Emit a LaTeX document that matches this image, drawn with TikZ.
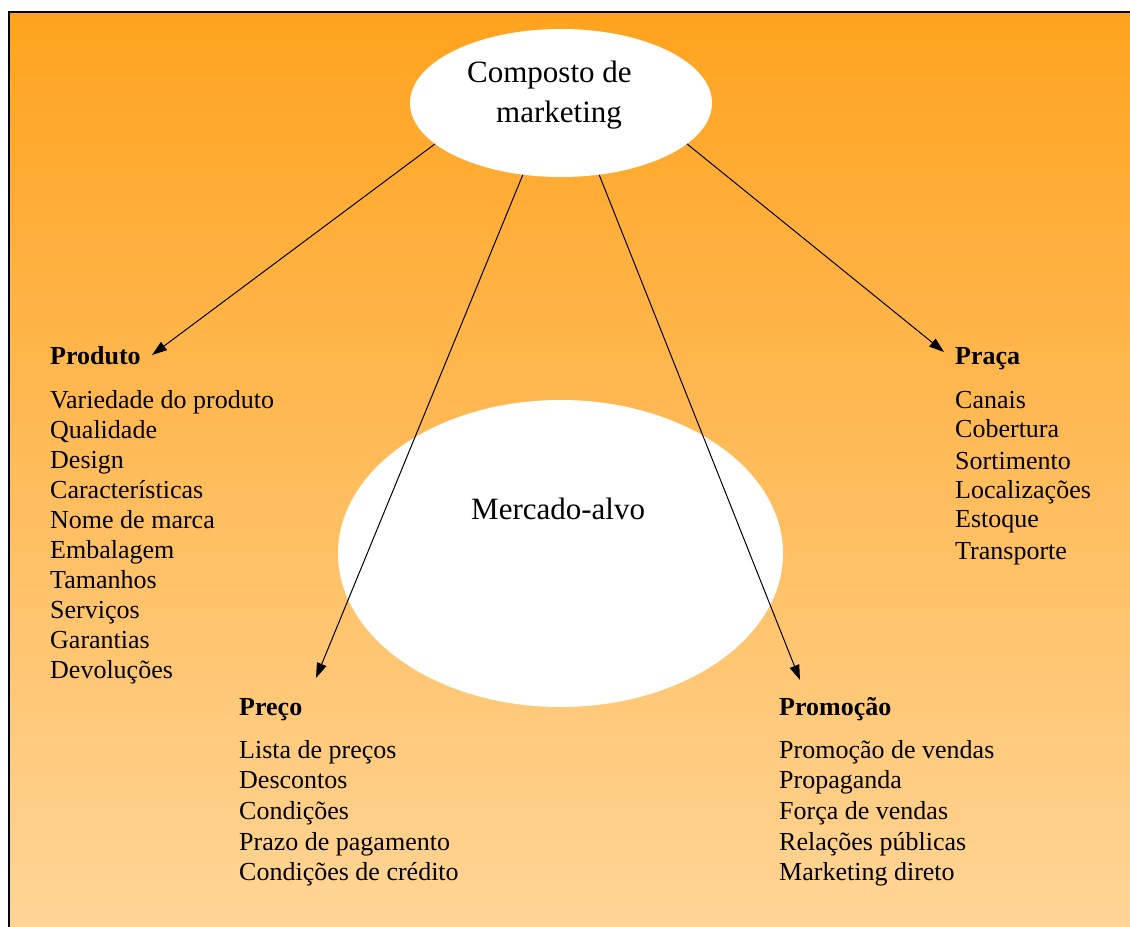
\documentclass[tikz,border=0pt]{standalone}
\usepackage{fontspec}
\setmainfont{Liberation Serif}
\usetikzlibrary{shapes.geometric,arrows.meta}
\definecolor{topor}{RGB}{255,163,30}
\definecolor{botor}{RGB}{255,213,150}
\begin{document}
\begin{tikzpicture}[x=1bp,y=-1bp,
  bubble/.style={ellipse,fill=white,draw=none,inner sep=0},
  title/.style={font=\fontsize{31bp}{36bp}\selectfont,inner sep=0,anchor=base west},
  head/.style={font=\fontsize{26bp}{30bp}\selectfont\bfseries,inner sep=0,anchor=base west},
  item/.style={font=\fontsize{26bp}{30bp}\selectfont,inner sep=0,anchor=base west},
  arr/.style={-{Triangle[length=15bp,width=10bp]},line width=1bp,black}]
\useasboundingbox (0,0) rectangle (1130,927);
\fill[white] (0,0) rectangle (1130,927);
% background panel with orange gradient and frame
\shade[top color=topor,bottom color=botor] (9,12) rectangle (1130,927);
\draw[line width=2.5bp] (9,927) -- (9,12) -- (1130,12);

% the two bubbles
\node[bubble,minimum width=302bp,minimum height=148bp] (mix) at (561,103) {};
\node[title] (mixA) at (467,82) {Composto de};
\node[title] (mixB) at (496,122) {marketing};
\node[bubble,minimum width=445bp,minimum height=307bp] (alvo) at (560.5,553.5) {};
\node[title] (alvoT) at (471,519) {Mercado-alvo};

% Produto
\node[head] (prod) at (50,364) {Produto};
\foreach \t [count=\i] in {Variedade do produto,Qualidade,Design,Características,Nome de marca,Embalagem,Tamanhos,Serviços,Garantias,Devoluções}
  \node[item] (prod\i) at (50,{408+30.1*(\i-1)}) {\t};

% Praça
\node[head] (praca) at (955,364) {Praça};
\foreach \t/\yy [count=\i] in {Canais/408,Cobertura/437,Sortimento/469,Localizações/498,Estoque/527,Transporte/559}
  \node[item] (praca\i) at (955,\yy) {\t};

% Preço
\node[head] (preco) at (239,715) {Preço};
\foreach \t/\yy [count=\i] in {Lista de preços/758,Descontos/788,Condições/819,Prazo de pagamento/850,Condições de crédito/880}
  \node[item] (preco\i) at (239,\yy) {\t};

% Promoção
\node[head] (promo) at (779,715) {Promoção};
\foreach \t/\yy [count=\i] in {Promoção de vendas/758,Propaganda/788,Força de vendas/819,Relações públicas/850,Marketing direto/880}
  \node[item] (promo\i) at (779,\yy) {\t};

% arrow tips beside the headings
\coordinate (tipProd) at (152,355);
\coordinate (tipPreco) at (316,678);
\coordinate (tipPromo) at (800,680);
\coordinate (tipPraca) at (944,352);

\draw[arr] (mix.198) -- (tipProd);
\draw[arr] (mix.242) -- (tipPreco);
\draw[arr] (mix.-62) -- (tipPromo);
\draw[arr] (mix.-18) -- (tipPraca);
\end{tikzpicture}
\end{document}
